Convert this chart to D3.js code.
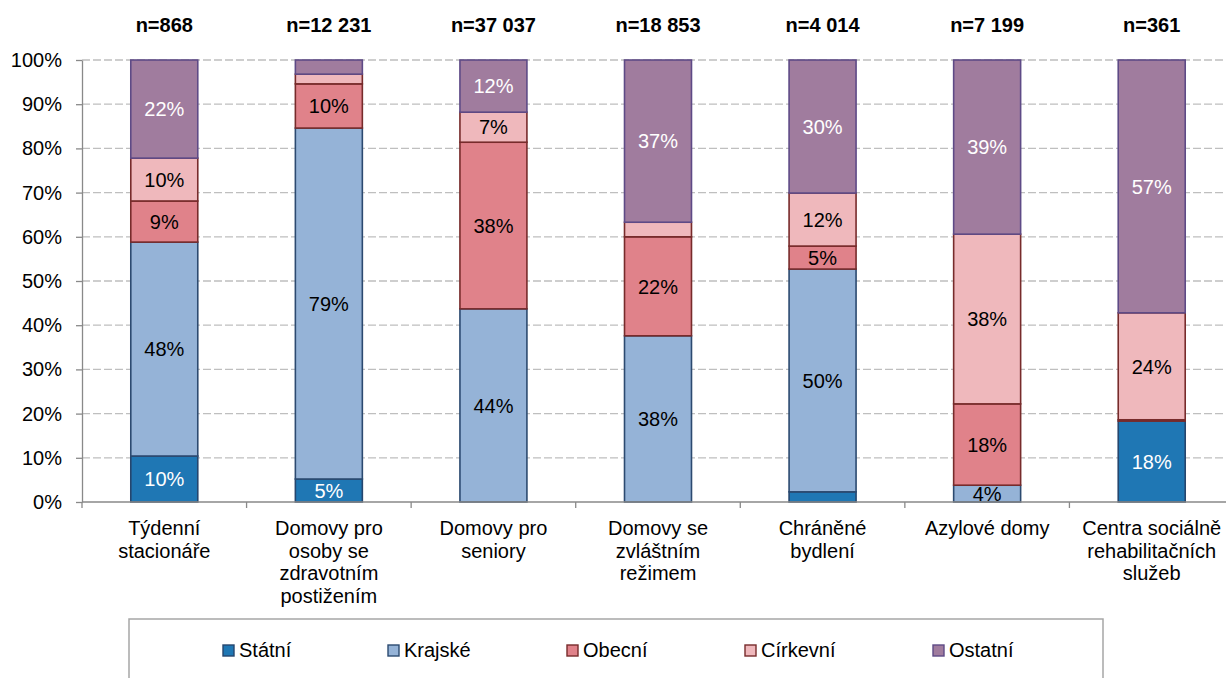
<!DOCTYPE html>
<html>
<head>
<meta charset="utf-8">
<script src="https://cdn.jsdelivr.net/npm/d3@7"></script>
<style>
  html, body { margin: 0; padding: 0; background: #fff; }
  svg { display: block; font-family: "Liberation Sans", Arial, sans-serif; }
</style>
</head>
<body>
<svg id="chart" width="1226" height="678"></svg>
<script>
// ---- data ----
const categories = ["Týdenní stacionáře", "Domovy pro osoby se zdravotním postižením", "Domovy pro seniory",
  "Domovy se zvláštním režimem", "Chráněné bydlení", "Azylové domy", "Centra sociálně rehabilitačních služeb"];
const categoryLines = [
  ["Týdenní", "stacionáře"],
  ["Domovy pro", "osoby se", "zdravotním", "postižením"],
  ["Domovy pro", "seniory"],
  ["Domovy se", "zvláštním", "režimem"],
  ["Chráněné", "bydlení"],
  ["Azylové domy"],
  ["Centra sociálně", "rehabilitačních", "služeb"]
];
const nLabels = ["n=868", "n=12 231", "n=37 037", "n=18 853", "n=4 014", "n=7 199", "n=361"];
const seriesNames = ["Státní", "Krajské", "Obecní", "Církevní", "Ostatní"];
const statni   = [10.4, 5.2, 0, 0, 2.3, 0, 18.3];
const krajske  = [48.4, 79.4, 43.7, 37.6, 50.4, 3.8, 0];
const obecni   = [9.3, 10.0, 37.7, 22.4, 5.2, 18.4, 0.3];
const cirkevni = [9.7, 2.2, 6.8, 3.3, 12.0, 38.4, 24.2];
const ostatni  = [22.2, 3.2, 11.8, 36.7, 30.1, 39.4, 57.2];
const yTicks = [0, 10, 20, 30, 40, 50, 60, 70, 80, 90, 100];

// ---- styles ----
const fills   = ["#1f77b4", "#95b3d7", "#e0828a", "#efb8bc", "#a07c9e"];
const strokes = ["#25466e", "#2c4a70", "#772b2b", "#772b2b", "#5e4a86"];
const labelColors = ["#ffffff", "#000000", "#000000", "#000000", "#ffffff"];

const seriesValues = [statni, krajske, obecni, cirkevni, ostatni];
const rows = categories.map((c, i) => {
  const r = { cat: c };
  seriesNames.forEach((s, k) => r[s] = seriesValues[k][i]);
  return r;
});

const svg = d3.select("#chart");
const mLeft = 82, mRight = 1234, mTop = 60, mBottom = 502;

const x = d3.scaleBand().domain(categories).range([mLeft, mRight]).paddingInner(0.593).paddingOuter(0.2965);
const y = d3.scaleLinear().domain([0, 100]).range([mBottom, mTop]);

// gridlines
svg.append("g").selectAll("line").data(yTicks.filter(d => d > 0)).join("line")
  .attr("x1", mLeft).attr("x2", mRight)
  .attr("y1", d => y(d)).attr("y2", d => y(d))
  .attr("stroke", "#bfbfbf").attr("stroke-width", 1.3).attr("stroke-dasharray", "8,3");

// y axis
const yAxis = svg.append("g").attr("transform", `translate(${mLeft},0)`)
  .call(d3.axisLeft(y).tickValues(yTicks).tickFormat(d => d + "%").tickSize(6).tickSizeOuter(0).tickPadding(14));
yAxis.select(".domain").attr("stroke", "#898989").attr("stroke-width", 1.3);
yAxis.selectAll(".tick line").attr("stroke", "#898989").attr("stroke-width", 1.3);
yAxis.selectAll(".tick text").attr("font-size", 20).attr("fill", "#000")
  .attr("font-family", "'Liberation Sans', Arial, sans-serif");

// stacked bars
const stack = d3.stack().keys(seriesNames);
const stacked = stack(rows);

const layers = svg.append("g").selectAll("g").data(stacked).join("g")
  .attr("fill", (d, i) => fills[i]).attr("stroke", (d, i) => strokes[i]);
layers.selectAll("rect").data(d => d.filter(p => p[1] - p[0] > 0)).join("rect")
  .attr("x", d => x(d.data.cat))
  .attr("width", x.bandwidth())
  .attr("y", d => y(d[1]))
  .attr("height", d => y(d[0]) - y(d[1]))
  .attr("stroke-width", 1.6);

// x axis
const xAxisG = svg.append("g");
xAxisG.append("line").attr("x1", mLeft).attr("x2", mRight).attr("y1", mBottom).attr("y2", mBottom)
  .attr("stroke", "#898989").attr("stroke-width", 1.3);
xAxisG.selectAll("line.tk").data(d3.range(categories.length + 1)).join("line").attr("class", "tk")
  .attr("x1", i => mLeft + i * x.step()).attr("x2", i => mLeft + i * x.step())
  .attr("y1", mBottom).attr("y2", mBottom + 6)
  .attr("stroke", "#898989").attr("stroke-width", 1.3);

// value labels
stacked.forEach((layer, k) => {
  svg.append("g").selectAll("text").data(layer.filter(p => Math.round(p[1] - p[0]) >= 4)).join("text")
    .attr("x", d => x(d.data.cat) + x.bandwidth() / 2)
    .attr("y", d => (y(d[0]) + y(d[1])) / 2)
    .attr("dy", "0.36em")
    .attr("text-anchor", "middle")
    .attr("font-size", 20)
    .attr("fill", labelColors[k])
    .text(d => Math.round(d[1] - d[0]) + "%");
});

// n labels
svg.append("g").selectAll("text").data(categories).join("text")
  .attr("x", d => x(d) + x.bandwidth() / 2)
  .attr("y", 32)
  .attr("text-anchor", "middle")
  .attr("font-size", 20)
  .attr("font-weight", "bold")
  .attr("fill", "#000")
  .text((d, i) => nLabels[i]);

// category labels
const catG = svg.append("g").selectAll("text").data(categories).join("text")
  .attr("text-anchor", "middle")
  .attr("font-size", 20)
  .attr("fill", "#000");
catG.each(function(d, i) {
  const t = d3.select(this);
  categoryLines[i].forEach((ln, j) => {
    t.append("tspan").attr("x", x(d) + x.bandwidth() / 2).attr("y", 535 + j * 22.7).text(ln);
  });
});

// legend
const lg = svg.append("g");
lg.append("rect").attr("x", 129).attr("y", 619).attr("width", 974).attr("height", 80)
  .attr("fill", "none").attr("stroke", "#a6a6a6").attr("stroke-width", 1.5);
const legendX = [223, 388, 567, 745, 933];
seriesNames.forEach((s, k) => {
  lg.append("rect").attr("x", legendX[k]).attr("y", 645).attr("width", 11).attr("height", 11)
    .attr("fill", fills[k]).attr("stroke", strokes[k]).attr("stroke-width", 1.4);
  lg.append("text").attr("x", legendX[k] + 16).attr("y", 650).attr("dy", "0.36em")
    .attr("font-size", 20).attr("fill", "#000").text(s);
});
</script>
</body>
</html>
